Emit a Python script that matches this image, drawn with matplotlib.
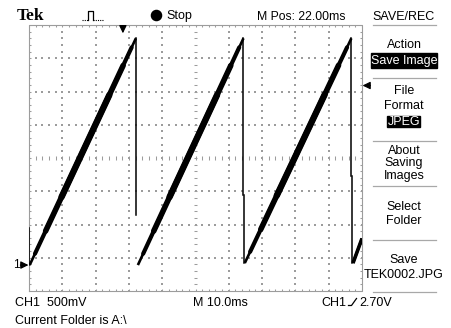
import numpy as np
import matplotlib
matplotlib.use("Agg")
import matplotlib.pyplot as plt
from matplotlib.lines import Line2D
from matplotlib.patches import Rectangle
from matplotlib.collections import LineCollection

# ---------------- data ----------------
# time axis in ms across the 10-division screen (10 ms/div), volts (500 mV/div)
ramp_t0 = [0.2, 32.7, 64.8, 97.3]
ramp_v0 = [0.00, 0.00, 0.03, 0.03]
ramp_t1 = [32.1, 64.4, 96.8, 100.0]
ramp_v1 = [3.41, 3.41, 3.41, 0.40]

fall_t = [0.0, 32.1, 64.4, 96.8]
fall_top = [0.56, 3.41, 3.41, 3.41]
fall_step = [np.nan, np.nan, 1.05, 1.34]
fall_bottom = [0.00, 0.75, 0.03, 0.03]

trigger_level_v = 2.70
trigger_pos_ms = 28.2
ground_v = 0.0

menu_title = "SAVE/REC"
menu_items = [["Action", "Save Image"], ["File", "Format", "JPEG"],
              ["About", "Saving", "Images"], ["Select", "Folder"],
              ["Save", "TEK0002.JPG"]]
status_left = "CH1  500mV"
status_mid = "M 10.0ms"
status_trig = "2.70V"
footer = "Current Folder is A:\\"
top_pos = "M Pos: 22.00ms"

# ---------------- figure ----------------
plt.rcParams['font.family'] = ['Liberation Sans', 'DejaVu Sans']
W, H = 451, 328
fig = plt.figure(figsize=(W / 100, H / 100), dpi=100)
fig.patch.set_facecolor("white")


def P(x, y):
    return (x / W, 1 - y / H)


def ftext(x, y, s, **kw):
    kw.setdefault("fontsize", 9)
    kw.setdefault("va", "baseline")
    kw.setdefault("color", "black")
    fig.text(x / W, 1 - y / H, s, **kw)


def fline(xs, ys, **kw):
    kw.setdefault("color", "black")
    kw.setdefault("lw", 0.8)
    fig.add_artist(Line2D([x / W for x in xs], [1 - y / H for y in ys],
                          transform=fig.transFigure, **kw))


ax = fig.add_axes([29 / W, 1 - 291 / H, 333 / W, 266 / H])
XMIN, XMAX = 0.0, 100.0
YMIN, YMAX = -0.39, 3.61
ax.set_xlim(XMIN, XMAX)
ax.set_ylim(YMIN, YMAX)
ax.axis("off")

gcol = "#9c9c9c"
xdiv = np.arange(XMIN, XMAX + 0.01, 10.0)
ydiv = YMIN + 0.5 * np.arange(9)
xminor = np.arange(XMIN, XMAX + 0.01, 2.0)
yminor = YMIN + 0.1 * np.arange(41)
xc, yc = 50.0, YMIN + 2.0

pts = []
for x in xdiv[1:-1]:
    if abs(x - xc) > 1e-6:
        pts += [(x, y) for y in yminor]
for y in ydiv[1:-1]:
    if abs(y - yc) > 1e-6:
        pts += [(x, y) for x in xminor]
pts = np.array(pts)
ax.scatter(pts[:, 0], pts[:, 1], s=0.9, marker="s", color=gcol, lw=0, zorder=1)

segs = []
tx, ty = 0.6, 0.03   # half-tick sizes
for y in yminor:
    segs.append([(xc - tx, y), (xc + tx, y)])
for x in xminor:
    segs.append([(x, yc - ty), (x, yc + ty)])
# border ticks pointing inward
for x in xminor:
    segs.append([(x, YMAX), (x, YMAX - 0.035)])
    segs.append([(x, YMIN), (x, YMIN + 0.035)])
for y in yminor:
    segs.append([(XMIN, y), (XMIN + 0.6, y)])
    segs.append([(XMAX, y), (XMAX - 0.6, y)])
ax.add_collection(LineCollection(segs, colors=gcol, lw=0.75, zorder=1))
ax.plot([XMIN, XMAX, XMAX, XMIN, XMIN], [YMIN, YMIN, YMAX, YMAX, YMIN],
        color=gcol, lw=0.8, zorder=1, clip_on=False)

# ---------------- waveform ----------------
for t0, v0, t1, v1 in zip(ramp_t0, ramp_v0, ramp_t1, ramp_v1):
    ax.plot([t0, t1], [v0, v1], color="k", lw=1.9, solid_capstyle="butt", zorder=3)
    full = (t1 - t0) > 10
    if full:
        for f0, f1, lw in [(0.05, 0.96, 3.0), (0.15, 0.88, 4.0), (0.3, 0.75, 4.6)]:
            ax.plot([t0 + f0 * (t1 - t0), t0 + f1 * (t1 - t0)],
                    [v0 + f0 * (v1 - v0), v0 + f1 * (v1 - v0)],
                    color="k", lw=lw, solid_capstyle="round", zorder=3)
    else:
        ax.plot([t0, t1], [v0, v1], color="k", lw=2.6, solid_capstyle="butt", zorder=3)

for t, top, step, bot in zip(fall_t, fall_top, fall_step, fall_bottom):
    if np.isnan(step):
        ax.plot([t, t], [top, bot], color="k", lw=1.1, zorder=3)
    else:
        ax.plot([t, t], [top, step], color="k", lw=1.1, zorder=3)
        ax.plot([t + 0.25, t + 0.25], [step, bot], color="k", lw=1.1, zorder=3)

# ---------------- markers ----------------
arrow = dict(arrowstyle="-|>,head_length=0.45,head_width=0.22", color="k",
             lw=0.9, shrinkA=0, shrinkB=0)
ax.annotate("", xy=(trigger_pos_ms, YMAX - 0.125), xytext=(trigger_pos_ms, YMAX - 0.01),
            arrowprops=arrow, annotation_clip=False)
ax.annotate("", xy=(XMAX + 0.15, trigger_level_v), xytext=(XMAX + 2.5, trigger_level_v),
            arrowprops=arrow, annotation_clip=False)
ax.annotate("", xy=(XMIN - 0.15, ground_v), xytext=(XMIN - 2.6, ground_v),
            arrowprops=arrow, annotation_clip=False)
ax.text(XMIN - 2.9, ground_v, "1", ha="right", va="center", fontsize=8.5)

# ---------------- header ----------------
ftext(16.5, 20.5, "Tek", family=["Liberation Serif", "DejaVu Serif"],
      fontweight="bold", fontsize=12.5)
fline([82, 87.5], [19.5, 19.5], ls=(0, (1, 1)), lw=0.8)
fline([87.5, 87.5, 93, 93], [19.5, 11, 11, 19.5], lw=0.9)
fline([93, 103], [19.5, 19.5], ls=(0, (1, 1)), lw=0.8)
fig.add_artist(Line2D([155.5 / W], [1 - 15 / H], marker="o", ms=7.3, color="k",
                      transform=fig.transFigure))
ftext(166, 19.5, "Stop")
ftext(257, 19.5, top_pos, fontsize=8.8)

# ---------------- menu ----------------
mx = 404
ftext(mx, 19.5, menu_title, ha="center")
sep_col = "#a8a8a8"
for yy in [24.5, 78, 141, 186, 239.5, 292]:
    fline([373, 436], [yy, yy], color=sep_col, lw=0.9)

ftext(mx, 47.5, menu_items[0][0], ha="center")
fig.add_artist(Rectangle(P(370.5, 67.7), 66.5 / W, 14.4 / H, color="k",
                         transform=fig.transFigure))
ftext(mx, 64.3, menu_items[0][1], ha="center", color="white")

ftext(mx, 94, menu_items[1][0], ha="center")
ftext(mx, 109.3, menu_items[1][1], ha="center")
fig.add_artist(Rectangle(P(386.5, 127.3), 33 / W, 11.3 / H, color="k",
                         transform=fig.transFigure))
ftext(mx + 0.5, 125, menu_items[1][2], ha="center", color="white")

ftext(mx, 154, menu_items[2][0], ha="center")
ftext(mx, 166, menu_items[2][1], ha="center")
ftext(mx, 178.7, menu_items[2][2], ha="center")

ftext(mx, 210, menu_items[3][0], ha="center")
ftext(mx, 224, menu_items[3][1], ha="center")

ftext(mx, 263.3, menu_items[4][0], ha="center")
ftext(mx, 278.3, menu_items[4][1], ha="center")

# ---------------- status line ----------------
ftext(15, 306.5, status_left)
ftext(193, 306.5, status_mid)
ftext(321.5, 306.5, "CH1")
fline([348.5, 351.5, 356.5], [305.5, 305.5, 298.5], lw=0.9)
ftext(359, 306.5, status_trig)
ftext(15, 324, footer)

fig.savefig("out.png", dpi=100, facecolor="white")
